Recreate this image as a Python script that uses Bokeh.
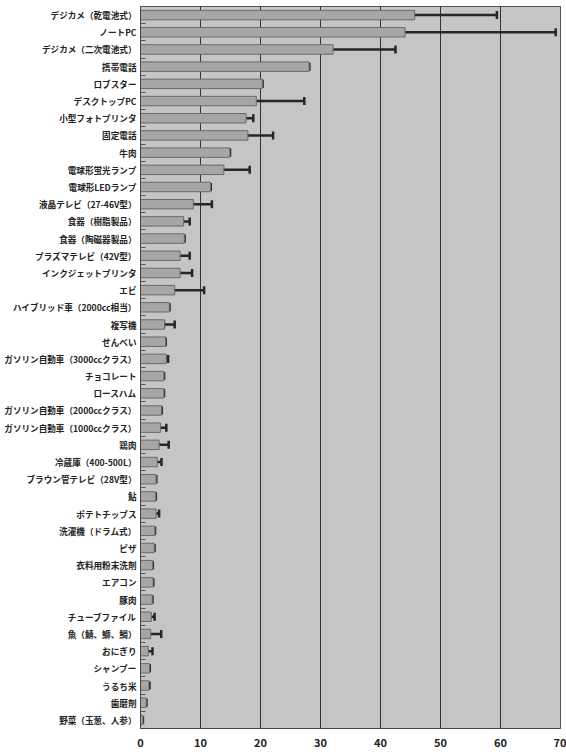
from bokeh.plotting import figure
from bokeh.models import ColumnDataSource, Range1d, FixedTicker, Whisker, TeeHead
from bokeh.embed import file_html
from bokeh.resources import INLINE

categories = [
    "デジカメ（乾電池式）", "ノートPC", "デジカメ（二次電池式）", "携帯電話", "ロブスター",
    "デスクトップPC", "小型フォトプリンタ", "固定電話", "牛肉", "電球形蛍光ランプ",
    "電球形LEDランプ", "液晶テレビ（27-46V型）", "食器（樹脂製品）", "食器（陶磁器製品）",
    "プラズマテレビ（42V型）", "インクジェットプリンタ", "エビ", "ハイブリッド車（2000cc相当）",
    "複写機", "せんべい", "ガソリン自動車（3000ccクラス）", "チョコレート", "ロースハム",
    "ガソリン自動車（2000ccクラス）", "ガソリン自動車（1000ccクラス）", "鶏肉",
    "冷蔵庫（400-500L）", "ブラウン管テレビ（28V型）", "鮎", "ポテトチップス",
    "洗濯機（ドラム式）", "ピザ", "衣料用粉末洗剤", "エアコン", "豚肉", "チューブファイル",
    "魚（鯖、鰤、鯛）", "おにぎり", "シャンプー", "うるち米", "歯磨剤", "野菜（玉葱、人参）",
]
values = [
    45.7, 44.1, 32.1, 28.1, 20.3, 19.3, 17.6, 17.9, 14.9, 13.9,
    11.7, 8.8, 7.2, 7.3, 6.6, 6.6, 5.7, 4.8, 4.0, 4.2,
    4.3, 3.9, 3.9, 3.5, 3.35, 3.1, 2.8, 2.6, 2.55, 2.6,
    2.4, 2.3, 2.05, 2.1, 1.95, 1.8, 1.7, 1.3, 1.5, 1.4, 0.95, 0.4,
]
lower = [
    31.8, 19.0, 21.6, 28.1, 20.3, 11.1, 17.2, 13.9, 14.9, 9.5,
    11.7, 5.6, 7.0, 7.3, 5.2, 4.6, 0.95, 4.8, 3.9, 4.2,
    4.0, 3.9, 3.9, 3.5, 2.2, 1.4, 2.4, 2.6, 2.55, 2.0,
    2.4, 2.3, 2.05, 2.1, 1.95, 1.5, 0.05, 0.8, 1.5, 0.85, 0.95, 0.1,
]
upper = [
    59.4, 69.2, 42.5, 28.1, 20.3, 27.3, 18.8, 22.1, 14.9, 18.2,
    11.7, 11.9, 8.2, 7.3, 8.2, 8.6, 10.6, 4.8, 5.7, 4.2,
    4.6, 3.9, 3.9, 3.5, 4.3, 4.7, 3.5, 2.6, 2.55, 3.1,
    2.4, 2.3, 2.05, 2.1, 1.95, 2.35, 3.45, 2.0, 1.5, 1.5, 0.95, 0.4,
]
x_ticks = [0, 10, 20, 30, 40, 50, 60, 70]

n = len(categories)
idx = list(range(n))
src = ColumnDataSource(dict(y=idx, v=values, lo=lower, hi=upper))

FONT = "Noto Sans CJK JP"

p = figure(width=566, height=756, output_backend="svg", toolbar_location=None,
           x_range=Range1d(0, 70), y_range=Range1d(n - 0.5, -0.5),
           min_border_left=140, min_border_right=6, min_border_top=6, min_border_bottom=28)
p.background_fill_color = "#c5c5c5"
p.border_fill_color = "white"
p.outline_line_color = "#555555"
p.outline_line_width = 1

p.hbar(y="y", left=0, right="v", height=0.55, source=src,
       fill_color="#a6a6a6", line_color="#6a6a6a", line_width=1)

w = Whisker(source=src, base="y", lower="lo", upper="hi", dimension="width",
            line_color="#262626", line_width=2.5,
            upper_head=TeeHead(size=8, line_color="#262626", line_width=2.5),
            lower_head=TeeHead(size=8, line_color="#262626", line_width=2.5))
p.add_layout(w)

# x axis
p.xaxis.ticker = FixedTicker(ticks=x_ticks)
p.xaxis.major_label_text_font = FONT
p.xaxis.major_label_text_font_style = "bold"
p.xaxis.major_label_text_font_size = "11px"
p.xaxis.major_label_text_color = "#222222"
p.xaxis.major_tick_out = 0
p.xaxis.major_tick_in = 0
p.xaxis.minor_tick_out = 0
p.xaxis.minor_tick_in = 0
p.xaxis.axis_line_color = "#444444"
p.xaxis.major_label_standoff = 9

# y axis
p.yaxis.ticker = FixedTicker(ticks=idx, minor_ticks=[i + 0.5 for i in range(n - 1)])
p.yaxis.major_label_overrides = {i: c for i, c in enumerate(categories)}
p.yaxis.major_label_text_font = FONT
p.yaxis.major_label_text_font_style = "bold"
p.yaxis.major_label_text_font_size = "8.6px"
p.yaxis.major_label_text_color = "#222222"
p.yaxis.major_tick_out = 0
p.yaxis.major_tick_in = 0
p.yaxis.minor_tick_out = 0
p.yaxis.minor_tick_in = 5
p.yaxis.minor_tick_line_color = "#555555"
p.yaxis.axis_line_color = "#444444"
p.yaxis.major_label_standoff = 4

p.xgrid.ticker = FixedTicker(ticks=x_ticks)
p.xgrid.grid_line_color = "#333333"
p.xgrid.grid_line_width = 1
p.ygrid.grid_line_color = None

open("out.html", "w").write(file_html(p, INLINE))
